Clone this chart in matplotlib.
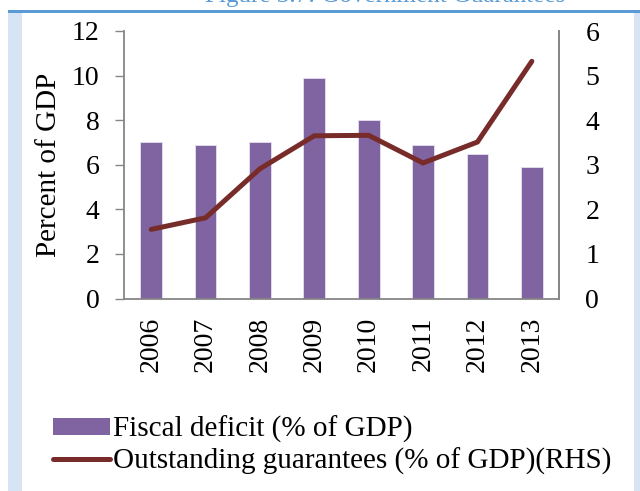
import numpy as np
import matplotlib.pyplot as plt
from matplotlib.patches import Rectangle, Patch
from matplotlib.lines import Line2D

years = ['2006', '2007', '2008', '2009', '2010', '2011', '2012', '2013']
fiscal_deficit = [7.0, 6.9, 7.0, 9.9, 8.0, 6.9, 6.5, 5.9]
guarantees = [1.55, 1.81, 2.91, 3.65, 3.66, 3.04, 3.51, 5.32]

plt.rcParams['font.family'] = ['Liberation Serif', 'DejaVu Serif']

W, H = 640, 491
fig = plt.figure(figsize=(W / 100, H / 100), dpi=100)
fig.patch.set_facecolor('white')

# page background: light blue frame, white box, blue rule on top
fig.add_artist(Rectangle((8 / W, 0), 1 - 8 / W, 1 - 11 / H, transform=fig.transFigure,
                         facecolor='#D6E4F3', edgecolor='none', zorder=-3))
fig.add_artist(Rectangle((22 / W, 0), (634 - 22) / W, 1 - 13 / H, transform=fig.transFigure,
                         facecolor='white', edgecolor='none', zorder=-2))
fig.add_artist(Rectangle((8 / W, 1 - 13 / H), 1 - 8 / W, 3 / H, transform=fig.transFigure,
                         facecolor='#5B9BD5', edgecolor='none', zorder=-1))
# caption sits half off the top edge, as in the source page
fig.text(385 / W, 1 + 4 / H, 'Figure 3.7: Government Guarantees', ha='center', va='center',
         color='#5B9BD5', fontsize=18)

ax = fig.add_axes([124 / W, 1 - 298.5 / H, 435 / W, 267.5 / H])
ax.set_facecolor('none')
x = np.arange(len(years))
ax.bar(x, fiscal_deficit, width=0.4, color='#8064A2', edgecolor='#E6E0EE', linewidth=0.6)
ax.set_xlim(-0.5, len(years) - 0.5)
ax.set_ylim(0, 12)
ax.set_yticks(range(0, 13, 2))
ax.set_xticks(x)
ax.set_xticklabels(years, rotation=90)
ax.tick_params(axis='y', direction='out', length=6.5, width=1, color='#868686', labelsize=20, pad=11)
ax.tick_params(axis='x', length=0, labelsize=20, pad=13)
ax.set_ylabel('Percent of GDP', fontsize=21)
ax.yaxis.set_label_coords(-0.143, 0.5)
for s in ['left', 'bottom', 'right']:
    ax.spines[s].set_color('#868686')
    ax.spines[s].set_linewidth(1.3)
ax.spines['top'].set_visible(False)

ax2 = ax.twinx()
ax2.plot(x, guarantees, color='#772C2A', linewidth=3.6, solid_capstyle='round', solid_joinstyle='miter')
ax2.set_ylim(0, 6)
ax2.set_yticks(range(0, 7))
ax2.tick_params(axis='y', length=0, labelsize=20, pad=19)
for s in ['left', 'bottom', 'top']:
    ax2.spines[s].set_visible(False)
ax2.spines['right'].set_color('#868686')
ax2.spines['right'].set_linewidth(1.3)

handles = [Patch(facecolor='#8064A2', edgecolor='none'),
           Line2D([], [], color='#772C2A', linewidth=3.6, solid_capstyle='round')]
labels = ['Fiscal deficit (% of GDP)', 'Outstanding guarantees (% of GDP)(RHS)']
fig.legend(handles, labels, loc='upper left', bbox_to_anchor=(53 / W, 1 - 416 / H),
           frameon=False, fontsize=21, handlelength=1.95, handleheight=0.48,
           handletextpad=0.1, labelspacing=0.15, borderpad=0, borderaxespad=0)

fig.savefig('out.png', dpi=100)
